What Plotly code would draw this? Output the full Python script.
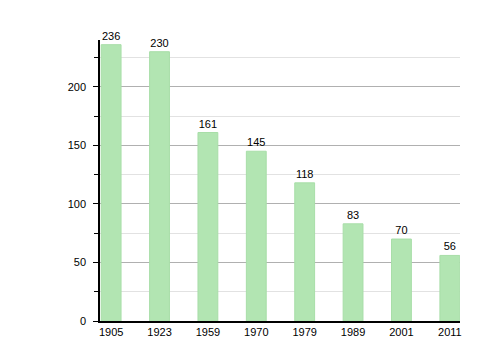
import plotly.graph_objects as go

years = ["1905", "1923", "1959", "1970", "1979", "1989", "2001", "2011"]
population = [236, 230, 161, 145, 118, 83, 70, 56]
y_ticks = [0, 50, 100, 150, 200]

fig = go.Figure()
fig.add_trace(go.Bar(
    x=years, y=population,
    width=0.41,
    marker=dict(color="#b2e5b2", line=dict(color="#a8dea8", width=1)),
    text=[str(v) for v in population],
    textposition="outside",
    textfont=dict(family="Liberation Sans, Arial", size=11, color="#000"),
    outsidetextfont=dict(family="Liberation Sans, Arial", size=11, color="#000"),
    cliponaxis=False,
))

fig.update_layout(
    width=500, height=360,
    margin=dict(l=100, r=40, t=40, b=39),
    paper_bgcolor="white", plot_bgcolor="white",
    showlegend=False,
    font=dict(family="Liberation Sans, Arial", size=11, color="#000"),
)
fig.update_xaxes(
    type="category", range=[-0.23, 7.21],
    showline=True, linecolor="#000", linewidth=1.5,
    ticks="", showgrid=False, tickfont=dict(size=11, color="#000"),
)
fig.update_yaxes(
    range=[0, 240], tickvals=y_ticks,
    showline=True, linecolor="#000", linewidth=1.5,
    ticks="outside", ticklen=5, tickcolor="#000",
    ticklabelstandoff=5,
    showgrid=True, gridcolor="#b0b0b0", gridwidth=1,
    zeroline=False,
    minor=dict(dtick=25, tick0=0, ticks="outside", ticklen=4, tickcolor="#000",
               showgrid=True, gridcolor="#e2e2e2", gridwidth=1),
    tickfont=dict(size=11, color="#000"),
)

fig.write_html("out.html")
